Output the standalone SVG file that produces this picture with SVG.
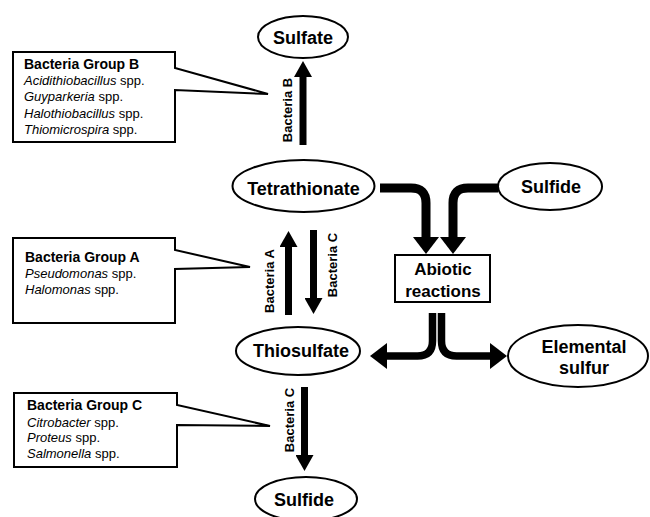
<svg xmlns="http://www.w3.org/2000/svg" width="650" height="517" viewBox="0 0 650 517">
<style>
.node{fill:#fff;stroke:#000;stroke-width:2}
.lbl{font-family:"Liberation Sans",Arial,sans-serif;font-weight:bold;font-size:18px;fill:#000;text-anchor:middle}
.abl{font-family:"Liberation Sans",Arial,sans-serif;font-weight:bold;font-size:17px;fill:#000;text-anchor:middle}
.rot{font-family:"Liberation Sans",Arial,sans-serif;font-weight:bold;font-size:13px;fill:#000;text-anchor:middle}
.call{fill:#fff;stroke:#000;stroke-width:2;stroke-linejoin:miter}
.ct{font-family:"Liberation Sans",Arial,sans-serif;font-weight:bold;font-size:14px;fill:#000}
.ci{font-family:"Liberation Sans",Arial,sans-serif;font-size:13px;fill:#000}
.it{font-style:italic}
.thin{fill:none;stroke:#000;stroke-width:7;marker-end:url(#head)}
.thick{fill:none;stroke:#000;stroke-width:9;marker-end:url(#big)}
.thick2{fill:none;stroke:#000;stroke-width:7.5;marker-end:url(#big)}
</style>
<defs>
<marker id="head" viewBox="0 0 16 18" markerWidth="16" markerHeight="18" refX="0" refY="9" orient="auto" markerUnits="userSpaceOnUse">
<path d="M0,0 L16,9 L0,18 z" fill="#000"/>
</marker>
<marker id="big" viewBox="0 0 17 26" markerWidth="17" markerHeight="26" refX="0" refY="13" orient="auto" markerUnits="userSpaceOnUse">
<path d="M0,0 L17,13 L0,26 z" fill="#000"/>
</marker>
</defs>
<rect width="650" height="517" fill="#fff"/>

<g id="connectors">
<path class="thin" d="M303,145 V77"/>
<path class="thin" d="M288.5,315 V247"/>
<path class="thin" d="M313.5,230 V298"/>
<path class="thin" d="M304.5,387 V455"/>
<path class="thick" d="M380,188 H411 Q426,188 426,203 V237"/>
<path class="thick" d="M498,188 H468 Q453,188 453,203 V237"/>
<path class="thick2" d="M432.5,313 V341 Q432.5,356 417.5,356 H387"/>
<path class="thick2" d="M441.5,313 V341 Q441.5,356 456.5,356 H490"/>
<text class="rot" transform="translate(292,110) rotate(-90)">Bacteria B</text>
<text class="rot" transform="translate(274,281) rotate(-90)">Bacteria A</text>
<text class="rot" transform="translate(337,265) rotate(-90)">Bacteria C</text>
<text class="rot" transform="translate(294,420) rotate(-90)">Bacteria C</text>
</g>

<g id="sulfate">
<ellipse class="node" cx="303" cy="37" rx="45" ry="21"/>
<text class="lbl" x="303" y="44">Sulfate</text>
</g>
<g id="tetrathionate">
<ellipse class="node" cx="303.5" cy="186" rx="71" ry="26"/>
<text class="lbl" x="303.5" y="194.5">Tetrathionate</text>
</g>
<g id="sulfide-top">
<ellipse class="node" cx="550" cy="186.5" rx="52" ry="23.5"/>
<text class="lbl" x="551" y="192.5">Sulfide</text>
</g>
<g id="abiotic">
<rect class="node" x="395" y="255" width="95" height="47"/>
<text class="abl" x="443" y="275">Abiotic</text>
<text class="abl" x="443" y="297">reactions</text>
</g>
<g id="thiosulfate">
<ellipse class="node" cx="298" cy="351" rx="62" ry="24"/>
<text class="lbl" x="301" y="356.5">Thiosulfate</text>
</g>
<g id="elemental-sulfur">
<ellipse class="node" cx="578" cy="356" rx="70" ry="31"/>
<text class="lbl" x="584" y="353">Elemental</text>
<text class="lbl" x="584" y="374">sulfur</text>
</g>
<g id="sulfide-bottom">
<ellipse class="node" cx="306" cy="499" rx="51" ry="22"/>
<text class="lbl" x="304" y="506">Sulfide</text>
</g>

<g id="group-b">
<polygon class="call" points="13,52 175,52 175,68 268,94 175,90 175,142 13,142"/>
<text class="ct" x="24" y="69">Bacteria Group B</text>
<text class="ci" x="24" y="85"><tspan class="it">Acidithiobacillus</tspan> spp.</text>
<text class="ci" x="24" y="101"><tspan class="it">Guyparkeria</tspan> spp.</text>
<text class="ci" x="24" y="118"><tspan class="it">Halothiobacillus</tspan> spp.</text>
<text class="ci" x="24" y="134"><tspan class="it">Thiomicrospira</tspan> spp.</text>
</g>
<g id="group-a">
<polygon class="call" points="13,238 175,238 175,250 250,267 175,269 175,323 13,323"/>
<text class="ct" x="25" y="262">Bacteria Group A</text>
<text class="ci" x="25" y="278"><tspan class="it">Pseudomonas</tspan> spp.</text>
<text class="ci" x="25" y="294"><tspan class="it">Halomonas</tspan> spp.</text>
</g>
<g id="group-c">
<polygon class="call" points="14,393 177,393 177,405 270,426 177,425 177,467 14,467"/>
<text class="ct" x="27" y="410">Bacteria Group C</text>
<text class="ci" x="27" y="427"><tspan class="it">Citrobacter</tspan> spp.</text>
<text class="ci" x="27" y="442"><tspan class="it">Proteus</tspan> spp.</text>
<text class="ci" x="27" y="458"><tspan class="it">Salmonella</tspan> spp.</text>
</g>
</svg>
